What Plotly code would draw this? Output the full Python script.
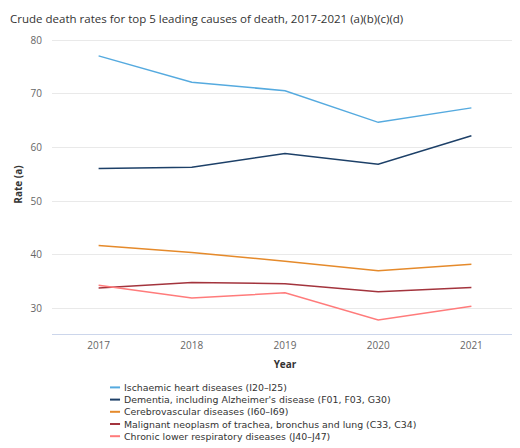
import plotly.graph_objects as go

years = ["2017", "2018", "2019", "2020", "2021"]

ischaemic = [77.1, 72.2, 70.6, 64.7, 67.4]
dementia = [56.1, 56.3, 58.9, 56.9, 62.2]
cerebrovascular = [41.7, 40.4, 38.8, 37.0, 38.2]
lung_cancer = [33.8, 34.8, 34.6, 33.1, 33.9]
chronic_resp = [34.3, 31.9, 32.9, 27.8, 30.4]

names = [
    "Ischaemic heart diseases (I20\u2013I25)",
    "Dementia, including Alzheimer's disease (F01, F03, G30)",
    "Cerebrovascular diseases (I60\u2013I69)",
    "Malignant neoplasm of trachea, bronchus and lung (C33, C34)",
    "Chronic lower respiratory diseases (J40\u2013J47)",
]
series = [ischaemic, dementia, cerebrovascular, lung_cancer, chronic_resp]
colors = ["#55aadf", "#1d4068", "#e58a2b", "#a3343d", "#ff7b7b"]

fig = go.Figure()
for nm, vals, col in zip(names, series, colors):
    fig.add_trace(go.Scatter(
        x=years, y=vals, mode="lines", name=nm, showlegend=False,
        line=dict(color=col, width=1.5)))

# compact legend below the plot: swatches + one multi-line text block
row_y = [-0.1786, -0.2194, -0.2602, -0.3010, -0.3418]
for col, ry in zip(colors, row_y):
    fig.add_shape(type="line", xref="paper", yref="paper",
                  x0=0.1245, x1=0.146, y0=ry, y1=ry,
                  line=dict(color=col, width=2))
fig.add_annotation(text="<br>".join(names), xref="paper", yref="paper",
                   x=0.151, y=row_y[2], xanchor="left", yanchor="middle",
                   align="left", showarrow=False,
                   font=dict(family="DejaVu Sans", size=9.4, color="#333333"))

# page body has an 8px margin, so the figure is 8px smaller than the window
fig.update_layout(
    width=512, height=440,
    margin=dict(l=44, r=2, t=27, b=114),
    paper_bgcolor="white", plot_bgcolor="white",
    font=dict(family="Open Sans", size=10, color="#333333"),
    title=dict(text="Crude death rates for top 5 leading causes of death, 2017-2021 (a)(b)(c)(d)",
               x=0.004, xanchor="left", y=0.985, yanchor="top", pad=dict(l=0, t=0),
               font=dict(size=11.5, color="#333333")),
    xaxis=dict(type="category", range=[-0.5, 4.5], showgrid=False, automargin=False,
               showline=True, linecolor="#ccd6eb", linewidth=1,
               ticks="", tickfont=dict(size=10, color="#666666"), ticklabelstandoff=2,
               title=dict(text="<b>Year</b>", font=dict(size=10, color="#333333"), standoff=9)),
    yaxis=dict(range=[25.2, 81], tickvals=[30, 40, 50, 60, 70, 80], automargin=True,
               showgrid=True, gridcolor="#e9e9e9", zeroline=False,
               tickfont=dict(size=10, color="#666666"), ticklabelstandoff=9,
               title=dict(text="<b>Rate (a)</b>", font=dict(size=10, color="#333333"), standoff=6)),
)

fig.write_html("out.html")
